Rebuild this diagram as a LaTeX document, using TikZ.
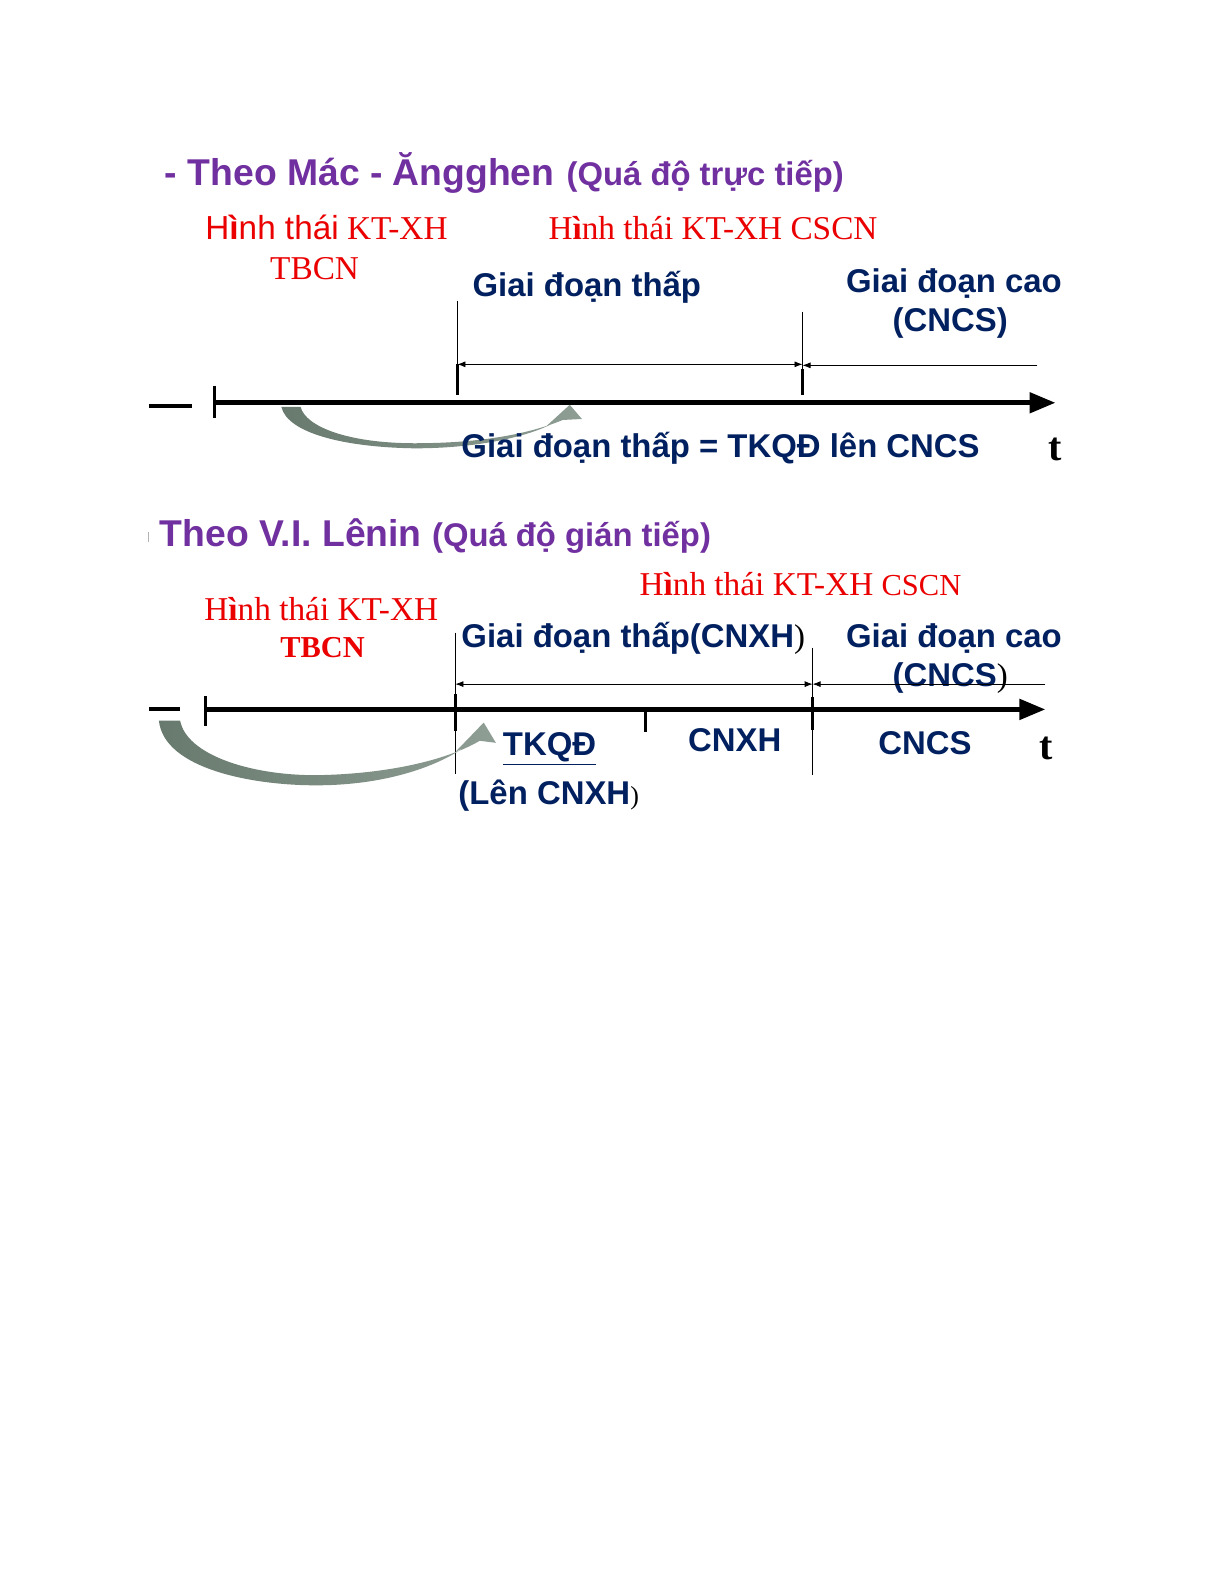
\documentclass[tikz,border=0pt]{standalone}
\usepackage{fontspec}
\setmainfont{Liberation Serif}
\newfontfamily\arialf{Liberation Sans}
\newfontfamily\tmfont{Liberation Serif}
\usetikzlibrary{arrows.meta}
\definecolor{purp}{RGB}{112,48,160}
\definecolor{navy}{RGB}{0,32,96}
\definecolor{redt}{RGB}{235,0,0}
\definecolor{arrdark}{RGB}{104,121,110}
\definecolor{arrlight}{RGB}{142,158,148}
\begin{document}
\begin{tikzpicture}[x=1.012pt,y=-1.012pt,
  txt/.style={anchor=base west, inner sep=0pt, outer sep=0pt},
  ttl/.style={txt, text=purp, font=\arialf\bfseries\fontsize{37.3}{40}\selectfont},
  sub/.style={txt, text=purp, font=\arialf\bfseries\fontsize{32.8}{36}\selectfont},
  redlbl/.style={txt, text=redt, font=\tmfont\fontsize{33.3}{36}\selectfont},
  nav/.style={txt, text=navy, font=\arialf\bfseries\fontsize{32.9}{36}\selectfont},
  tlbl/.style={txt, text=black, font=\tmfont\bfseries\fontsize{40}{42}\selectfont},
  thinln/.style={line width=0.8pt, draw=black},
  tickln/.style={line width=3.5pt, draw=black},
  dashln/.style={line width=4pt, draw=black},
  axisln/.style={line width=5pt, draw=black, -{Triangle[length=26pt,width=20pt]}},
  dimln/.style={line width=0.8pt, draw=black, {Latex[length=8pt,width=6pt]}-{Latex[length=8pt,width=6pt]}},
  dimr/.style={line width=0.8pt, draw=black, -{Latex[length=8pt,width=6pt]}},
  curvarrow/.style={left color=arrdark, right color=arrlight, draw=none},
]
\useasboundingbox (0,0) rectangle (1210.47,1566.21);
\fill[white] (0,0) rectangle (1210.47,1566.21);

% ================= TOP SECTION =================
\node[ttl] (t1) at (163,183) {- Theo Mác - Ăngghen};
\node[sub] (s1) at (560,183) {(Quá độ trực tiếp)};
\node[redlbl] (r1) at (203,237) {{\arialf H{\bfseries ì}nh thái} KT-XH};
\node[redlbl] (r2) at (267,276) {TBCN};
\node[redlbl] (r3) at (542,237) {H{\bfseries ì}nh thái KT-XH CSCN};
\node[nav] (g1) at (467,293) {Giai đoạn thấp};
\node[nav] (g2) at (836,289) {Giai đoạn cao};
\node[nav] (g3) at (882,328) {(CNCS)};

\coordinate (a0) at (212,398);
\coordinate (a1) at (1043,398);
\coordinate (d0) at (147,401);
\coordinate (d1) at (190,401);
\coordinate (k0t) at (212,381);
\coordinate (k0b) at (212,413);
\coordinate (v1t) at (452,297);
\coordinate (v1b) at (452,390);
\coordinate (k1t) at (452,360);
\coordinate (v2t) at (793,308);
\coordinate (v2b) at (793,390);
\coordinate (k2t) at (793,365);
\coordinate (h1l) at (452,360);
\coordinate (h1r) at (793,360);
\coordinate (h2r) at (1025,361);
\coordinate (h2l) at (793,361);

\draw[thinln] (v1t) -- (v1b);
\draw[tickln] (k1t) -- (v1b);
\draw[thinln] (v2t) -- (v2b);
\draw[tickln] (k2t) -- (v2b);
\draw[dimln] (h1l) -- (h1r);
\draw[dimr] (h2r) -- (h2l);
\draw[axisln] (a0) -- (a1);
\draw[tickln] (k0t) -- (k0b);
\draw[dashln] (d0) -- (d1);

% curved arrow (top)
\shade[curvarrow] (278,402) .. controls (284,428) and (340,442) .. (410,443)
  .. controls (470,443) and (520,432) .. (545,419)
  -- (540,421) -- (563,400) -- (575,414) -- (556,415)
  .. controls (520,430) and (470,438) .. (410,438)
  .. controls (345,438) and (302,422) .. (297,402) -- cycle;

\node[nav] (g4) at (456,452) {Giai đoạn thấp = TKQĐ lên CNCS};
\node[tlbl] (tt1) at (1036,455) {t};

% ================= BOTTOM SECTION =================
\coordinate (m0) at (147,526);
\coordinate (m1) at (147,536);
\draw[line width=1pt, draw=gray!60] (m0) -- (m1);
\node[ttl] (t2) at (158,540) {Theo V.I. Lênin};
\node[sub] (s2) at (427,540) {(Quá độ gián tiếp)};
\node[redlbl] (r4) at (632,588) {H{\bfseries ì}nh thái KT-XH {\fontsize{30.5}{32}\selectfont CSCN}};
\node[redlbl] (r5) at (202,613) {H{\bfseries ì}nh thái KT-XH};
\node[redlbl, font=\tmfont\bfseries\fontsize{30.4}{32}\selectfont] (r6) at (277,650) {TBCN};
\node[nav] (g5) at (456,640) {Giai đoạn thấp(CNXH{\color{black}\tmfont\mdseries)}};
\node[nav] (g6) at (836,640) {Giai đoạn cao};
\node[nav] (g7) at (882,678) {(CNCS{\color{black}\tmfont\mdseries)}};

\coordinate (b0) at (203,701);
\coordinate (b1) at (1033,701);
\coordinate (e0) at (147,701);
\coordinate (e1) at (178,701);
\coordinate (q0t) at (203,688);
\coordinate (q0b) at (203,717);
\coordinate (w1t) at (450,625);
\coordinate (w1b) at (450,765);
\coordinate (q1t) at (450,686);
\coordinate (q1b) at (450,722);
\coordinate (q2t) at (638,703);
\coordinate (q2b) at (638,723);
\coordinate (w3t) at (803,640);
\coordinate (w3b) at (803,766);
\coordinate (q3t) at (803,689);
\coordinate (q3b) at (803,721);
\coordinate (j1l) at (450,676);
\coordinate (j1r) at (803,676);
\coordinate (j2r) at (1033,676);
\coordinate (j2l) at (803,676);

\draw[thinln] (w1t) -- (w1b);
\draw[thinln] (w3t) -- (w3b);
\draw[dimln] (j1l) -- (j1r);
\draw[dimr] (j2r) -- (j2l);
\draw[axisln] (b0) -- (b1);
\draw[tickln] (q0t) -- (q0b);
\draw[tickln] (q1t) -- (q1b);
\draw[tickln] (q2t) -- (q2b);
\draw[tickln] (q3t) -- (q3b);
\draw[dashln] (e0) -- (e1);

% curved arrow (bottom)
\shade[curvarrow] (157,712) .. controls (162,760) and (250,776) .. (312,776)
  .. controls (380,776) and (430,758) .. (458,739)
  -- (450,743) -- (478,714) -- (490,734) -- (474,732)
  .. controls (440,752) and (380,765) .. (312,766)
  .. controls (245,766) and (184,745) .. (178,712) -- cycle;

\node[nav] (g8) at (497,747) {\underline{TKQĐ}};
\node[nav] (g9) at (453,795) {(Lên CNXH{\color{black}\tmfont\mdseries\fontsize{26}{28}\selectfont)}};
\node[nav] (g10) at (680,743) {CNXH};
\node[nav] (g11) at (868,746) {CNCS};
\node[tlbl] (tt2) at (1027,750) {t};
\end{tikzpicture}
\end{document}
